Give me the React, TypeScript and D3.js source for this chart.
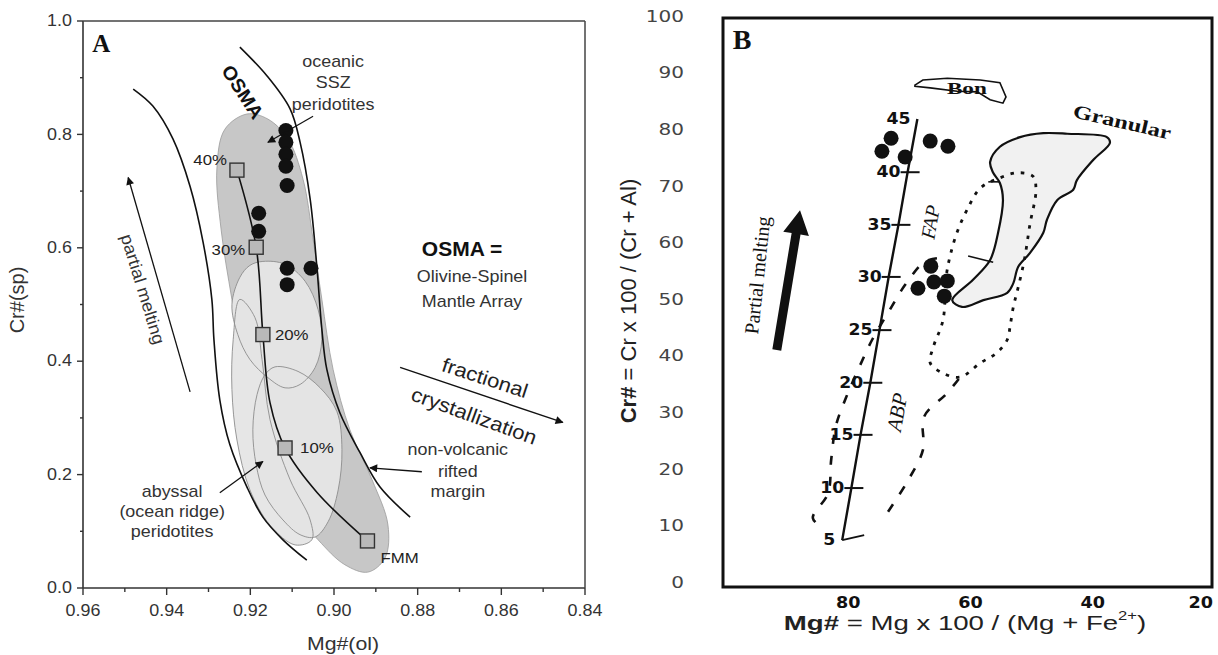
import React from 'react';
import * as d3 from 'd3';

// ---------- Panel A : Mg#(ol) vs Cr#(sp) ----------
// melting trend of FMM (squares)
const meltLabels = ['FMM', '10%', '20%', '30%', '40%'];
const meltMg = [0.892, 0.9117, 0.917, 0.9186, 0.9232];
const meltCr = [0.083, 0.247, 0.447, 0.601, 0.737];
// the drawn trend line incl. its bends
const meltPathMg = [0.892, 0.904, 0.9117, 0.9153, 0.917, 0.9186, 0.9232];
const meltPathCr = [0.083, 0.168, 0.247, 0.327, 0.447, 0.601, 0.737];

// samples (black dots)
const dotAMg = [0.9115, 0.9115, 0.9115, 0.9115, 0.9112, 0.918, 0.918, 0.9112, 0.9112, 0.9055];
const dotACr = [0.807, 0.786, 0.765, 0.744, 0.71, 0.661, 0.629, 0.564, 0.535, 0.564];

// OSMA boundaries
const osmaLeft: [number, number][] = [
  [0.948, 0.88], [0.9433, 0.85], [0.9385, 0.792], [0.9344, 0.708], [0.9313, 0.61],
  [0.9292, 0.509], [0.9287, 0.438], [0.9273, 0.332], [0.9249, 0.253], [0.9208, 0.178],
  [0.917, 0.125], [0.9122, 0.085], [0.9065, 0.049],
];
const osmaRight: [number, number][] = [
  [0.9225, 0.954], [0.916, 0.903], [0.9105, 0.845], [0.9081, 0.786], [0.9057, 0.686],
  [0.9041, 0.567], [0.9029, 0.456], [0.9017, 0.385], [0.8986, 0.309], [0.8938, 0.239],
  [0.889, 0.178], [0.8818, 0.125],
];

// fields
const sszField: [number, number][] = [
  [0.9208, 0.836], [0.9158, 0.827], [0.911, 0.792], [0.9074, 0.721], [0.905, 0.615],
  [0.9029, 0.509], [0.9002, 0.385], [0.8962, 0.279], [0.8909, 0.191], [0.8871, 0.111],
  [0.8878, 0.053], [0.8919, 0.028], [0.8974, 0.041], [0.9038, 0.085], [0.9105, 0.147],
  [0.9165, 0.261], [0.9213, 0.385], [0.9244, 0.509], [0.927, 0.633], [0.928, 0.739],
  [0.9261, 0.809],
];
const abyssalUpper: [number, number][] = [
  [0.917, 0.576], [0.9117, 0.571], [0.9069, 0.541], [0.9038, 0.491], [0.9029, 0.438],
  [0.9045, 0.389], [0.9081, 0.359], [0.9117, 0.353], [0.9158, 0.371], [0.9201, 0.403],
  [0.923, 0.447], [0.9244, 0.5], [0.9225, 0.548], [0.9201, 0.569],
];
const abyssalLower: [number, number][] = [
  [0.9141, 0.39], [0.9086, 0.382], [0.9033, 0.353], [0.8993, 0.311], [0.8981, 0.244],
  [0.899, 0.173], [0.9014, 0.117], [0.9045, 0.09], [0.9081, 0.094], [0.9122, 0.12],
  [0.9165, 0.164], [0.9186, 0.217], [0.9194, 0.279], [0.9184, 0.341], [0.9165, 0.376],
];
const abyssalLeft: [number, number][] = [
  [0.9225, 0.509], [0.9189, 0.477], [0.9172, 0.403], [0.9153, 0.297], [0.9105, 0.191],
  [0.9057, 0.12], [0.9053, 0.085], [0.9093, 0.076], [0.9153, 0.111], [0.9201, 0.173],
  [0.9232, 0.261], [0.9244, 0.35], [0.9241, 0.438],
];

// ---------- Panel B : Mg# vs Cr# (spinel) ----------
const meltPct = [5, 10, 15, 20, 25, 30, 35, 40, 45];
const meltLineMg = [80.5, 79.0, 77.5, 75.9, 74.4, 72.9, 71.3, 69.8, 68.2];
const meltLineCr = [7.4, 16.6, 26.0, 35.2, 44.5, 53.9, 63.1, 72.4, 81.8];

const dotBMg = [72.5, 74.0, 70.2, 66.1, 63.2, 66.0, 68.1, 65.5, 63.3, 63.8];
const dotBCr = [78.4, 76.1, 75.1, 77.9, 77.0, 55.8, 51.9, 53.0, 53.2, 50.5];

const bonField: [number, number][] = [
  [68.6, 87.8], [67.3, 88.7], [63.3, 89.0], [57.9, 88.7], [54.7, 88.2], [53.7, 85.7],
  [54.2, 84.6], [56.3, 85.2], [58.4, 86.6], [61.7, 86.7], [66.1, 87.3], [68.6, 87.6],
];
const granularField: [number, number][] = [
  [56.3, 74.2], [54.7, 76.9], [51.4, 78.6], [47.6, 79.3], [43.7, 79.2], [37.2, 78.6],
  [36.7, 77.6], [39.4, 74.6], [42.1, 71.0], [42.7, 69.3], [45.3, 67.5], [47.0, 64.0],
  [47.6, 61.7], [49.8, 58.1], [51.7, 55.7], [52.5, 52.8], [53.5, 51.1], [57.4, 49.8],
  [60.9, 48.6], [62.5, 49.8], [59.1, 53.4], [56.3, 56.9], [55.0, 61.7], [54.2, 67.5],
  [54.7, 70.5], [55.8, 72.3],
];
const fapField: [number, number][] = [
  [57.9, 69.6], [60.1, 65.7], [61.7, 61.8], [62.8, 57.8], [63.5, 53.9], [64.0, 46.3],
  [65.6, 41.5], [66.1, 38.7], [64.0, 36.9], [61.2, 36.2], [57.9, 38.7], [55.2, 40.5],
  [53.5, 42.8], [53.0, 45.4], [52.5, 48.6], [51.7, 52.1], [50.7, 56.9], [49.8, 63.1],
  [48.8, 69.3], [49.3, 71.7], [51.9, 72.3], [54.7, 71.4],
];
const abpLeft: [number, number][] = [
  [65.0, 57.2], [67.1, 56.5], [70.2, 52.5], [72.7, 48.1], [75.6, 42.8], [77.9, 37.5],
  [79.9, 32.5], [81.5, 27.7], [82.3, 21.6], [82.8, 15.7], [85.3, 11.3], [83.8, 9.7],
];
const abpRight: [number, number][] = [
  [73.0, 12.4], [69.7, 18.0], [67.3, 23.3], [67.1, 29.2], [63.3, 33.4], [60.7, 36.9],
];
const granTicks: [number, number][][] = [
  [[56.6, 70.7], [54.7, 70.7]],
  [[59.9, 57.6], [55.8, 56.5]],
];

const xAxisB = [80, 60, 40, 20];

// ---------- layout ----------
const W = 1218;
const H = 655;
const xA = d3.scaleLinear().domain([0.96, 0.84]).range([83, 585]);
const yA = d3.scaleLinear().domain([0, 1]).range([588, 21]);
const xB = d3.scaleLinear().domain([100, 20]).range([723, 1212]);
const yB = d3.scaleLinear().domain([0, 100]).range([582, 16]);

const sansA = "'Liberation Sans', Arial, sans-serif";
const serif = "'Liberation Serif', 'Times New Roman', serif";
const numB = "'DejaVu Sans', sans-serif";

type TP = {
  x: number; y: number; rot?: number; sx?: number; size: number; anchor?: string;
  weight?: string; italic?: boolean; family?: string; fill?: string; children: React.ReactNode;
};
const T = ({ x, y, rot = 0, sx = 1, size, anchor = 'middle', weight = 'normal', italic = false, family = sansA, fill = '#222', children }: TP) => (
  <text
    transform={`translate(${x},${y}) rotate(${rot}) scale(${sx},1)`}
    fontSize={size}
    textAnchor={anchor}
    fontWeight={weight}
    fontStyle={italic ? 'italic' : 'normal'}
    fontFamily={family}
    fill={fill}
    dominantBaseline="central"
  >
    {children}
  </text>
);

export default function App() {
  const pathA = d3.line<[number, number]>().x(d => xA(d[0])).y(d => yA(d[1]));
  const closedA = pathA.curve(d3.curveCatmullRomClosed.alpha(0.5));
  const openA = d3.line<[number, number]>().x(d => xA(d[0])).y(d => yA(d[1])).curve(d3.curveCatmullRom.alpha(0.5));
  const closedB = d3.line<[number, number]>().x(d => xB(d[0])).y(d => yB(d[1])).curve(d3.curveCatmullRomClosed.alpha(0.5));
  const linClosedB = d3.line<[number, number]>().x(d => xB(d[0])).y(d => yB(d[1])).curve(d3.curveLinearClosed);
  const openB = d3.line<[number, number]>().x(d => xB(d[0])).y(d => yB(d[1])).curve(d3.curveCatmullRom.alpha(0.5));
  const straightB = d3.line<[number, number]>().x(d => xB(d[0])).y(d => yB(d[1]));

  const meltPath = meltPathMg.map((m, i) => [m, meltPathCr[i]] as [number, number]);
  const meltLine = meltLineMg.map((m, i) => [m, meltLineCr[i]] as [number, number]);

  const arrA = (a: [number, number], b: [number, number], w = 1.3) => (
    <line x1={xA(a[0])} y1={yA(a[1])} x2={xA(b[0])} y2={yA(b[1])} stroke="#111" strokeWidth={w} markerEnd="url(#ah)" />
  );

  // thick arrow of panel B
  const bigArrow = (() => {
    const x0 = xB(91.2), y0 = yB(41.0), x1 = xB(87.4), y1 = yB(65.7);
    const dx = x1 - x0, dy = y1 - y0, L = Math.hypot(dx, dy);
    const ux = dx / L, uy = dy / L, px = -uy, py = ux;
    const hl = 24, sw = 4.5, hw = 13;
    const bx = x1 - ux * hl, by = y1 - uy * hl;
    const pts = [
      [x0 + px * sw, y0 + py * sw], [bx + px * sw, by + py * sw], [bx + px * hw, by + py * hw],
      [x1, y1], [bx - px * hw, by - py * hw], [bx - px * sw, by - py * sw], [x0 - px * sw, y0 - py * sw],
    ];
    return 'M' + pts.map(p => p.join(',')).join('L') + 'Z';
  })();

  const sxA = 1.12;

  return (
    <svg width={W} height={H} style={{ position: 'absolute', left: 0, top: 0, background: '#fff' }}>
      <defs>
        <marker id="ah" viewBox="0 0 10 10" refX="9" refY="5" markerWidth="12" markerHeight="8" orient="auto" markerUnits="userSpaceOnUse">
          <path d="M0,0L10,5L0,10z" fill="#111" />
        </marker>
      </defs>

      {/* ================= Panel A ================= */}
      <g>
        {/* fields */}
        <path d={closedA(sszField) || ''} fill="#c7c7c7" stroke="#9a9a9a" strokeWidth={0.8} />
        <path d={closedA(abyssalLeft) || ''} fill="#e6e6e6" stroke="none" />
        <path d={closedA(abyssalUpper) || ''} fill="#e4e4e4" stroke="none" />
        <path d={closedA(abyssalLower) || ''} fill="#e4e4e4" stroke="none" />
        <path d={closedA(abyssalLeft) || ''} fill="none" stroke="#8c8c8c" strokeWidth={0.9} />
        <path d={closedA(abyssalUpper) || ''} fill="none" stroke="#8c8c8c" strokeWidth={0.9} />
        <path d={closedA(abyssalLower) || ''} fill="none" stroke="#8c8c8c" strokeWidth={0.9} />

        {/* OSMA curves */}
        <path d={openA(osmaLeft) || ''} fill="none" stroke="#111" strokeWidth={1.6} />
        <path d={openA(osmaRight) || ''} fill="none" stroke="#111" strokeWidth={1.6} />

        {/* melting trend */}
        <path d={openA(meltPath) || ''} fill="none" stroke="#111" strokeWidth={1.6} />
        {meltMg.map((m, i) => (
          <rect key={i} x={xA(m) - 7} y={yA(meltCr[i]) - 7} width={14} height={14} fill="#b9b9b9" stroke="#333" strokeWidth={1.4} />
        ))}
        {meltLabels.map((l, i) => {
          const x = xA(meltMg[i]), y = yA(meltCr[i]);
          const off = [[13, 17, 'start'], [15, 0, 'start'], [12, 0, 'start'], [-11, 3, 'end'], [-10, -10, 'end']][i];
          return <T key={l} x={x + (off[0] as number)} y={y + (off[1] as number)} size={15} sx={sxA} anchor={off[2] as string}>{l}</T>;
        })}

        {/* samples */}
        {dotAMg.map((m, i) => (
          <circle key={i} cx={xA(m)} cy={yA(dotACr[i])} r={7.5} fill="#111" />
        ))}

        {/* axes */}
        <line x1={xA(0.96)} y1={yA(0)} x2={xA(0.84)} y2={yA(0)} stroke="#333" strokeWidth={1.6} />
        <line x1={xA(0.96)} y1={yA(0)} x2={xA(0.96)} y2={yA(1)} stroke="#333" strokeWidth={1.6} />
        <line x1={xA(0.96)} y1={yA(1)} x2={xA(0.84)} y2={yA(1)} stroke="#444" strokeWidth={1.5} />
        <line x1={xA(0.84)} y1={yA(1)} x2={xA(0.84)} y2={yA(0)} stroke="#444" strokeWidth={1.5} />
        {yA.ticks(10).map(t => (
          <line key={'ym' + t} x1={xA(0.96)} x2={xA(0.96) - (Math.round(t * 10) % 2 === 0 ? 6 : 3)} y1={yA(t)} y2={yA(t)} stroke="#333" strokeWidth={1.4} />
        ))}
        {yA.ticks(5).map(t => (
          <T key={'yl' + t} x={xA(0.96) - 11} y={yA(t)} size={16} sx={sxA} anchor="end" fill="#333">{d3.format('.1f')(t)}</T>
        ))}
        {xA.ticks(12).map(t => (
          <line key={'xm' + t} x1={xA(t)} x2={xA(t)} y1={yA(0)} y2={yA(0) + (Math.round(t * 100) % 2 === 0 ? 7 : 4)} stroke="#333" strokeWidth={1.4} />
        ))}
        {xA.ticks(6).map(t => (
          <T key={'xl' + t} x={xA(t)} y={yA(0) + 23} size={16} sx={sxA} fill="#333">{d3.format('.2f')(t)}</T>
        ))}
        <T x={343} y={643} size={19} sx={sxA} fill="#333">Mg#(ol)</T>
        <T x={17} y={300} size={20} rot={-90} fill="#333">Cr#(sp)</T>

        {/* annotations */}
        <T x={xA(0.9578)} y={yA(0.961)} size={25} weight="bold" family={serif} anchor="start" fill="#111">A</T>
        <T x={xA(0.9218)} y={yA(0.875)} size={19} rot={57} weight="bold" sx={1.05} fill="#111">OSMA</T>
        <T x={xA(0.9002)} y={yA(0.928)} size={16} sx={sxA} fill="#333">oceanic</T>
        <T x={xA(0.9002)} y={yA(0.891)} size={16} sx={sxA} fill="#333">SSZ</T>
        <T x={xA(0.9002)} y={yA(0.852)} size={16} sx={sxA} fill="#333">peridotites</T>
        {arrA([0.905, 0.832], [0.9158, 0.786], 1.2)}
        <T x={xA(0.879)} y={yA(0.599)} size={20} weight="bold" sx={1.05} anchor="start" fill="#111">OSMA =</T>
        <T x={xA(0.867)} y={yA(0.549)} size={16} sx={sxA} fill="#333">Olivine-Spinel</T>
        <T x={xA(0.867)} y={yA(0.505)} size={16} sx={sxA} fill="#333">Mantle Array</T>
        {arrA([0.9344, 0.346], [0.9492, 0.724], 1.3)}
        <T x={xA(0.9457)} y={yA(0.527)} size={17} rot={73} sx={1.08} fill="#333">partial melting</T>
        {arrA([0.8842, 0.389], [0.8453, 0.292], 1.4)}
        <T x={xA(0.8639)} y={yA(0.371)} size={20} rot={18} sx={1.1} fill="#222">fractional</T>
        <T x={xA(0.8665)} y={yA(0.304)} size={20} rot={20} sx={1.1} fill="#222">crystallization</T>
        {arrA([0.879, 0.205], [0.8914, 0.212], 1.3)}
        <T x={xA(0.8704)} y={yA(0.244)} size={16} sx={sxA} fill="#333">non-volcanic</T>
        <T x={xA(0.8704)} y={yA(0.205)} size={16} sx={sxA} fill="#333">rifted</T>
        <T x={xA(0.8704)} y={yA(0.17)} size={16} sx={sxA} fill="#333">margin</T>
        {arrA([0.9273, 0.168], [0.917, 0.223], 1.3)}
        <T x={xA(0.9387)} y={yA(0.17)} size={16} sx={sxA} fill="#333">abyssal</T>
        <T x={xA(0.9387)} y={yA(0.134)} size={16} sx={sxA} fill="#333">(ocean ridge)</T>
        <T x={xA(0.9387)} y={yA(0.099)} size={16} sx={sxA} fill="#333">peridotites</T>
      </g>

      {/* ================= Panel B ================= */}
      <g>
        <path d={closedB(granularField) || ''} fill="#f1f1f1" stroke="#111" strokeWidth={2.2} />
        {granTicks.map((s, i) => (
          <path key={i} d={straightB(s) || ''} stroke="#111" strokeWidth={1.6} fill="none" />
        ))}
        <path d={linClosedB(bonField) || ''} fill="#fff" stroke="#111" strokeWidth={1.6} />
        <path d={closedB(fapField) || ''} fill="none" stroke="#111" strokeWidth={2.8} strokeDasharray="3.5 7" />
        <path d={openB(abpLeft) || ''} fill="none" stroke="#111" strokeWidth={2.6} strokeDasharray="9 12" />
        <path d={openB(abpRight) || ''} fill="none" stroke="#111" strokeWidth={2.6} strokeDasharray="9 12" />

        {/* melting line with degree ticks */}
        <path d={straightB(meltLine) || ''} fill="none" stroke="#111" strokeWidth={2.4} />
        {meltPct.map((p, i) => {
          const x = xB(meltLineMg[i]), y = yB(meltLineCr[i]);
          return (
            <g key={p}>
              {p < 45 && (
                p === 5
                  ? <line x1={x} y1={y} x2={x + 22} y2={y - 5} stroke="#111" strokeWidth={2} />
                  : <line x1={x - 7} y1={y} x2={x + 12} y2={y} stroke="#111" strokeWidth={2} />
              )}
              <T x={x - 7} y={y + (p === 45 ? 0 : 0)} size={15} weight="bold" family={numB} sx={1.15} anchor="end" fill="#111">{p}</T>
            </g>
          );
        })}

        {dotBMg.map((m, i) => (
          <circle key={i} cx={xB(m)} cy={yB(dotBCr[i])} r={7.5} fill="#111" />
        ))}

        {/* frame */}
        <rect x={723} y={18} width={489} height={569} fill="none" stroke="#111" strokeWidth={3} />

        {/* axes labels */}
        {yB.ticks(10).map(t => (
          <T key={'by' + t} x={684} y={yB(t)} size={16} family={numB} sx={1.25} anchor="end" fill="#444">{t}</T>
        ))}
        {xAxisB.map((t, i) => (
          <T key={'bx' + t} x={i === xAxisB.length - 1 ? 1213 : xB(t) + 3} y={602} size={16} weight="bold" family={numB} sx={1.1} anchor={i === xAxisB.length - 1 ? 'end' : 'middle'} fill="#111">{t}</T>
        ))}
        <text transform="translate(965,623) scale(1.38,1)" fontSize={20} fontFamily={sansA} textAnchor="middle" dominantBaseline="central" fill="#222">
          <tspan fontWeight="bold">Mg#</tspan>
          <tspan> = Mg x 100 / (Mg + Fe</tspan>
          <tspan fontSize={12} dy={-7}>2+</tspan>
          <tspan dy={7}>)</tspan>
        </text>
        <text transform="translate(628,301) rotate(-90)" fontSize={22} fontFamily={sansA} textAnchor="middle" dominantBaseline="central" fill="#222">
          <tspan fontWeight="bold">Cr#</tspan>
          <tspan> = Cr x 100 / (Cr + Al)</tspan>
        </text>

        {/* annotations */}
        <T x={xB(98.4)} y={yB(95.8)} size={28} weight="bold" family={serif} anchor="start" fill="#111">B</T>
        <T x={xB(60.1)} y={yB(87.3)} size={16} weight="bold" family={serif} sx={1.45} fill="#111">Bon</T>
        <T x={xB(34.7)} y={yB(81.3)} size={19} weight="bold" family={serif} sx={1.3} rot={13} fill="#111">Granular</T>
        <T x={xB(66.1)} y={yB(63.6)} size={20} italic family={serif} rot={-80} fill="#111">FAP</T>
        <T x={xB(71.5)} y={yB(30.0)} size={21} italic family={serif} rot={-80} fill="#111">ABP</T>
        <T x={xB(94.4)} y={yB(54.2)} size={20} family={serif} rot={-84} fill="#111">Partial melting</T>
        <path d={bigArrow} fill="#111" />
      </g>
    </svg>
  );
}
